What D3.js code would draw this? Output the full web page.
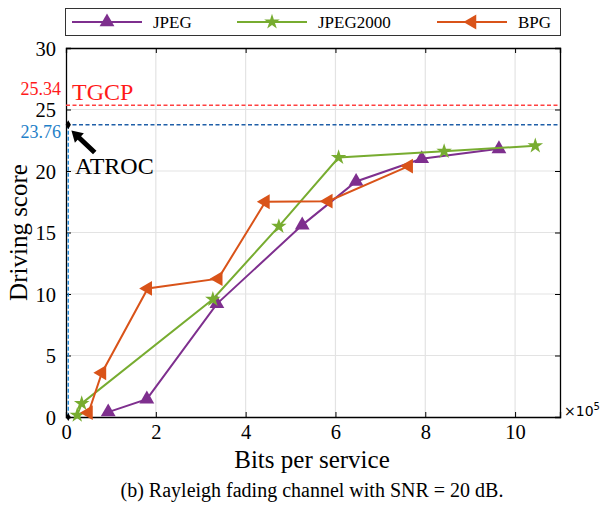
<!DOCTYPE html>
<html><head><meta charset="utf-8">
<script src="https://cdn.jsdelivr.net/npm/d3@7"></script>
<style>body{margin:0;background:#fff}svg{display:block}</style>
</head><body>
<svg id="c" width="600" height="512" style="font-family:'Liberation Serif','Times New Roman',serif"></svg>
<script>
// ---- data ----
const seriesNames = ["JPEG", "JPEG2000", "BPG"];
const jpegX = [0.94, 1.80, 3.36, 5.26, 6.46, 7.92, 9.64];
const jpegY = [0.4, 1.45, 9.2, 15.6, 19.15, 21.0, 21.8];
const j2kX = [0.25, 0.35, 3.27, 4.74, 6.07, 8.42, 10.45];
const j2kY = [0.15, 1.1, 9.57, 15.5, 21.1, 21.6, 22.05];
const bpgX = [0.50, 0.80, 1.82, 3.39, 4.44, 5.84, 7.63];
const bpgY = [0.35, 3.6, 10.45, 11.25, 17.5, 17.55, 20.4];
const xTicks = [0, 2, 4, 6, 8, 10];
const yTicks = [0, 5, 10, 15, 20, 25, 30];
const tgcpValue = 25.34;
const atrocValue = 23.76;
const atrocBits = 0.05;

const colors = {JPEG: "#7E2F8E", JPEG2000: "#77AC30", BPG: "#D95319"};
const svg = d3.select("#c");
const serif = "'Liberation Serif','Times New Roman',serif";
const L = 66, R = 560, T = 48, B = 417;
const x = d3.scaleLinear().domain([0, 11]).range([L, R]);
const y = d3.scaleLinear().domain([0, 30]).range([B, T]);

// grid
const g = svg.append("g");
g.selectAll(".gx").data(xTicks.filter(d => d > 0)).join("line")
  .attr("x1", d => x(d)).attr("x2", d => x(d)).attr("y1", T).attr("y2", B)
  .attr("stroke", "#e3e3e3").attr("stroke-width", 1.2);
g.selectAll(".gy").data(yTicks.filter(d => d > 0 && d < 30)).join("line")
  .attr("y1", d => y(d)).attr("y2", d => y(d)).attr("x1", L).attr("x2", R)
  .attr("stroke", "#e3e3e3").attr("stroke-width", 1.2);

// axes (ticks inward)
const fmt = d3.format("d");
const axB = svg.append("g").attr("transform", `translate(0,${B})`)
  .call(d3.axisBottom(x).tickValues(xTicks).tickSize(-5).tickPadding(7).tickFormat(fmt));
const axT = svg.append("g").attr("transform", `translate(0,${T})`)
  .call(d3.axisTop(x).tickValues(xTicks).tickSize(-5).tickFormat(""));
const axL = svg.append("g").attr("transform", `translate(${L},0)`)
  .call(d3.axisLeft(y).tickValues(yTicks).tickSize(-5).tickPadding(10).tickFormat(fmt));
const axR = svg.append("g").attr("transform", `translate(${R},0)`)
  .call(d3.axisRight(y).tickValues(yTicks).tickSize(-5).tickFormat(""));
[axB, axT, axL, axR].forEach(a => {
  a.attr("font-family", serif);
  a.select(".domain").attr("stroke", "#000").attr("stroke-width", 1.3);
  a.selectAll(".tick line").attr("stroke", "#000").attr("stroke-width", 1);
  a.selectAll("text").attr("font-size", 20.5).attr("fill", "#000");
});
axL.selectAll("text").attr("dy", "0.35em");

// reference lines
svg.append("line").attr("x1", L).attr("x2", R).attr("y1", y(tgcpValue)).attr("y2", y(tgcpValue))
  .attr("stroke", "#ff4040").attr("stroke-width", 1.5).attr("stroke-dasharray", "4,2.5");
svg.append("line").attr("x1", L).attr("x2", R).attr("y1", y(atrocValue)).attr("y2", y(atrocValue))
  .attr("stroke", "#1f5fa8").attr("stroke-width", 1.3).attr("stroke-dasharray", "4,2.5");
svg.append("line").attr("x1", x(atrocBits)).attr("x2", x(atrocBits)).attr("y1", y(atrocValue)).attr("y2", y(0))
  .attr("stroke", "#1f86d6").attr("stroke-width", 1.4).attr("stroke-dasharray", "4,2");
svg.append("path").attr("d", d3.symbol(d3.symbolDiamond, 24)())
  .attr("transform", `translate(${x(atrocBits)},${y(atrocValue)})`).attr("fill", "#000");
svg.append("path").attr("d", d3.symbol(d3.symbolDiamond, 18)())
  .attr("transform", `translate(${x(atrocBits)},${y(0)})`).attr("fill", "#000");

// series
const data = [
  {name: "JPEG", xs: jpegX, ys: jpegY},
  {name: "JPEG2000", xs: j2kX, ys: j2kY},
  {name: "BPG", xs: bpgX, ys: bpgY}
];
const tri = d3.symbol(d3.symbolTriangle, 95)();
const star = d3.symbol(d3.symbolStar, 75)();
function marker(name) { return name === "JPEG2000" ? star : tri; }
function rot(name) { return name === "BPG" ? " rotate(-90)" : ""; }
const line = d3.line().x(d => x(d[0])).y(d => y(d[1]));
data.forEach(s => {
  const pts = s.xs.map((v, i) => [v, s.ys[i]]);
  svg.append("path").datum(pts).attr("d", line).attr("fill", "none")
    .attr("stroke", colors[s.name]).attr("stroke-width", 2);
  svg.selectAll(null).data(pts).join("path").attr("d", marker(s.name))
    .attr("transform", d => `translate(${x(d[0])},${y(d[1])})${rot(s.name)}`)
    .attr("fill", colors[s.name]);
});

// annotations
svg.append("text").attr("x", 61).attr("y", y(tgcpValue) - 10).attr("text-anchor", "end")
  .attr("font-size", 18).attr("fill", "#ff1a1a").text("25.34");
svg.append("text").attr("x", 61).attr("y", y(atrocValue) + 13).attr("text-anchor", "end")
  .attr("font-size", 18).attr("fill", "#1f7fc8").text("23.76");
svg.append("text").attr("x", 72).attr("y", 100).attr("font-size", 24).attr("fill", "#ff1a1a").text("TGCP");
svg.append("text").attr("x", 75).attr("y", 174).attr("font-size", 24).attr("fill", "#000").text("ATROC");
// arrow
{
  const tx = x(0.12), ty = y(23.3), sx = x(0.64), sy = y(21.5);
  const ang = Math.atan2(ty - sy, tx - sx);
  const len = Math.hypot(tx - sx, ty - sy);
  const hl = 11, hw = 6.5, sw = 2.5;
  const pts = [[0, -sw], [len - hl, -sw], [len - hl, -hw], [len, 0], [len - hl, hw], [len - hl, sw], [0, sw]];
  svg.append("polygon").attr("points", pts.map(p => p.join(",")).join(" "))
    .attr("transform", `translate(${sx},${sy}) rotate(${ang * 180 / Math.PI})`).attr("fill", "#000");
}

// axis titles
svg.append("text").attr("x", (L + R) / 2 - 1).attr("y", 468).attr("text-anchor", "middle")
  .attr("font-size", 25).text("Bits per service");
svg.append("text").attr("transform", `translate(27,${(T + B) / 2}) rotate(-90)`).attr("text-anchor", "middle")
  .attr("font-size", 25).text("Driving score");
const ex = svg.append("text").attr("x", 564).attr("y", 416).attr("font-family", "'DejaVu Sans',sans-serif").attr("font-size", 14);
ex.append("tspan").text("×10");
ex.append("tspan").attr("dy", -6).attr("font-size", 10).text("5");
svg.append("text").attr("x", (L + R) / 2 - 1).attr("y", 497).attr("text-anchor", "middle")
  .attr("font-size", 20).text("(b) Rayleigh fading channel with SNR = 20 dB.");

// legend
const lg = svg.append("g");
lg.append("rect").attr("x", 65.5).attr("y", 8.5).attr("width", 495).attr("height", 27)
  .attr("fill", "#fff").attr("stroke", "#333").attr("stroke-width", 1);
const legX = [72, 237, 437];
seriesNames.forEach((n, i) => {
  const x0 = legX[i], yc = 22;
  lg.append("line").attr("x1", x0).attr("x2", x0 + 70).attr("y1", yc).attr("y2", yc)
    .attr("stroke", colors[n]).attr("stroke-width", 2);
  lg.append("path").attr("d", marker(n)).attr("transform", `translate(${x0 + 35},${yc})${rot(n)}`)
    .attr("fill", colors[n]);
  lg.append("text").attr("x", x0 + 81).attr("y", yc + 6).attr("font-size", 17).text(n);
});
</script>
</body></html>
